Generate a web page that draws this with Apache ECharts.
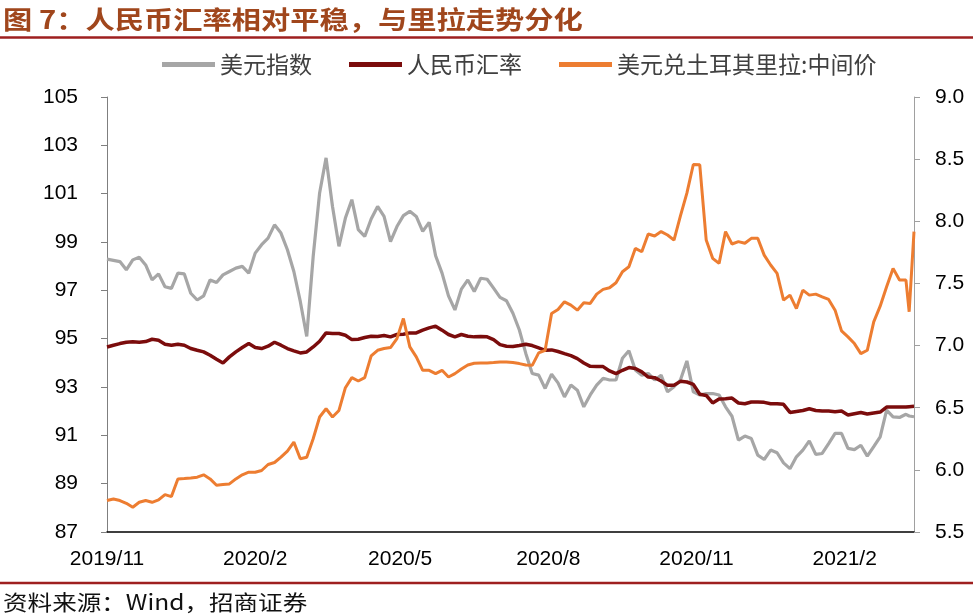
<!DOCTYPE html>
<html>
<head>
<meta charset="utf-8">
<script src="https://cdn.jsdelivr.net/npm/echarts@6/dist/echarts.min.js"></script>
<style>
html,body{margin:0;padding:0;background:#fff;}
#chart{width:973px;height:615px;}
</style>
</head>
<body>
<div id="chart"></div>
<script>
const titleText = '图 7：人民币汇率相对平稳，与里拉走势分化';
const sourceText = '资料来源：Wind，招商证券';
const seriesNames = ['美元指数', '人民币汇率', '美元兑土耳其里拉:中间价'];
const xTickDates = ['2019-11-07', '2020-02-07', '2020-05-07', '2020-08-07', '2020-11-07', '2021-02-07'];

const dates = [
'2019-11-07','2019-11-11','2019-11-15','2019-11-19','2019-11-23','2019-11-27','2019-12-01','2019-12-05','2019-12-09','2019-12-13',
'2019-12-17','2019-12-21','2019-12-25','2019-12-29','2020-01-02','2020-01-06','2020-01-10','2020-01-14','2020-01-18','2020-01-22',
'2020-01-26','2020-01-30','2020-02-03','2020-02-07','2020-02-11','2020-02-15','2020-02-19','2020-02-23','2020-02-27','2020-03-02',
'2020-03-06','2020-03-10','2020-03-14','2020-03-18','2020-03-22','2020-03-26','2020-03-30','2020-04-03','2020-04-07','2020-04-11',
'2020-04-15','2020-04-19','2020-04-23','2020-04-27','2020-05-01','2020-05-05','2020-05-09','2020-05-13','2020-05-17','2020-05-21',
'2020-05-25','2020-05-29','2020-06-02','2020-06-06','2020-06-10','2020-06-14','2020-06-18','2020-06-22','2020-06-26','2020-06-30',
'2020-07-04','2020-07-08','2020-07-12','2020-07-16','2020-07-20','2020-07-24','2020-07-28','2020-08-01','2020-08-05','2020-08-09',
'2020-08-13','2020-08-17','2020-08-21','2020-08-25','2020-08-29','2020-09-02','2020-09-06','2020-09-10','2020-09-14','2020-09-18',
'2020-09-22','2020-09-26','2020-09-30','2020-10-04','2020-10-08','2020-10-12','2020-10-16','2020-10-20','2020-10-24','2020-10-28',
'2020-11-01','2020-11-05','2020-11-09','2020-11-13','2020-11-17','2020-11-21','2020-11-25','2020-11-29','2020-12-03','2020-12-07',
'2020-12-11','2020-12-15','2020-12-19','2020-12-23','2020-12-27','2020-12-31','2021-01-04','2021-01-08','2021-01-12','2021-01-16',
'2021-01-20','2021-01-24','2021-01-28','2021-02-01','2021-02-05','2021-02-09','2021-02-13','2021-02-17','2021-02-21','2021-02-25',
'2021-03-01','2021-03-05','2021-03-09','2021-03-13','2021-03-17','2021-03-19','2021-03-22'
];

const dollarIndex = [
98.29,98.24,98.19,97.85,98.26,98.37,98.05,97.43,97.68,97.15,
97.08,97.71,97.68,96.88,96.60,96.77,97.43,97.32,97.64,97.78,
97.92,97.99,97.71,98.54,98.89,99.16,99.71,99.37,98.68,97.78,
96.54,95.09,98.40,101.03,102.48,100.47,98.82,99.99,100.75,99.51,
99.23,99.95,100.47,100.06,99.02,99.64,100.09,100.27,100.06,99.44,
99.81,98.43,97.71,96.77,96.19,97.05,97.43,96.95,97.50,97.46,
97.09,96.71,96.57,96.05,95.36,94.39,93.56,93.49,92.94,93.53,
93.17,92.59,93.08,92.87,92.18,92.67,93.08,93.36,93.29,93.29,
94.19,94.50,93.70,93.49,93.56,93.29,93.49,92.80,93.01,93.29,
94.08,92.80,92.67,92.73,92.73,92.67,92.18,91.79,90.80,90.97,
90.87,90.18,90.00,90.39,90.28,89.86,89.62,90.11,90.39,90.77,
90.21,90.25,90.66,91.08,91.08,90.46,90.41,90.59,90.14,90.53,
90.94,92.04,91.76,91.74,91.87,91.80,91.77
];

const cnyRate = [
6.989,7.003,7.016,7.027,7.030,7.027,7.032,7.051,7.043,7.011,
7.003,7.011,7.003,6.976,6.962,6.949,6.922,6.890,6.860,6.909,
6.949,6.984,7.016,6.984,6.976,6.995,7.027,7.003,6.976,6.957,
6.941,6.949,6.989,7.035,7.102,7.097,7.097,7.083,7.048,7.051,
7.065,7.075,7.073,7.081,7.070,7.089,7.091,7.102,7.102,7.124,
7.142,7.156,7.124,7.089,7.070,7.089,7.075,7.070,7.073,7.070,
7.048,7.008,6.995,6.992,7.000,7.011,7.000,6.981,6.962,6.965,
6.952,6.935,6.919,6.895,6.860,6.833,6.831,6.831,6.796,6.774,
6.801,6.823,6.815,6.788,6.747,6.742,6.715,6.680,6.680,6.712,
6.707,6.688,6.608,6.599,6.538,6.570,6.573,6.578,6.538,6.532,
6.546,6.546,6.543,6.532,6.532,6.527,6.462,6.470,6.478,6.492,
6.478,6.473,6.473,6.468,6.473,6.441,6.452,6.462,6.449,6.457,
6.465,6.505,6.505,6.505,6.505,6.508,6.511
];

const usdTry = [
5.753,5.766,5.753,5.731,5.699,5.739,5.753,5.739,5.758,5.801,
5.785,5.927,5.930,5.935,5.941,5.960,5.927,5.876,5.882,5.887,
5.927,5.960,5.981,5.981,5.995,6.043,6.059,6.102,6.151,6.223,
6.089,6.102,6.250,6.425,6.492,6.425,6.478,6.661,6.742,6.715,
6.742,6.917,6.962,6.976,6.984,7.056,7.218,6.989,6.909,6.801,
6.801,6.774,6.801,6.747,6.774,6.812,6.844,6.858,6.860,6.860,
6.863,6.868,6.868,6.863,6.855,6.844,6.841,6.941,6.962,7.258,
7.290,7.352,7.325,7.285,7.344,7.339,7.414,7.452,7.465,7.505,
7.594,7.634,7.782,7.755,7.898,7.882,7.917,7.890,7.849,8.043,
8.226,8.457,8.454,7.849,7.702,7.661,7.917,7.817,7.836,7.823,
7.863,7.863,7.728,7.648,7.581,7.366,7.406,7.298,7.446,7.406,
7.414,7.392,7.371,7.285,7.118,7.070,7.016,6.935,6.962,7.191,
7.317,7.473,7.621,7.527,7.527,7.272,7.917
];

function toStamp(s) {
  const p = s.split('-');
  return new Date(+p[0], +p[1] - 1, +p[2]).getTime();
}
const stamps = dates.map(toStamp);
const zip = (vals) => stamps.map((t, i) => [t, vals[i]]);
const tickStamps = xTickDates.map(toStamp);

const chart = echarts.init(document.getElementById('chart'), null, {renderer: 'canvas'});
const axisFont = {fontFamily: '"Liberation Sans", Arial, sans-serif', fontSize: 21, color: '#000'};

chart.setOption({
  animation: false,
  backgroundColor: '#fff',
  grid: {left: 107, right: 59, top: 97, bottom: 83, containLabel: false},
  legend: {
    data: seriesNames,
    left: 157, top: 48,
    icon: 'rect', itemWidth: 53, itemHeight: 5, itemGap: 37,
    textStyle: {fontFamily: '"Noto Sans CJK SC", sans-serif', fontSize: 23, color: '#404040'}
  },
  xAxis: {
    type: 'value',
    min: stamps[0], max: stamps[stamps.length - 1],
    axisLine: {show: true, onZero: false, lineStyle: {color: '#000', width: 1.5}},
    axisTick: {show: false},
    splitLine: {show: false},
    axisLabel: Object.assign({
      customValues: tickStamps,
      margin: 17,
      hideOverlap: false,
      showMinLabel: true, showMaxLabel: true,
      formatter: (v) => { const d = new Date(v); return d.getFullYear() + '/' + (d.getMonth() + 1); }
    }, axisFont)
  },
  yAxis: [
    {
      type: 'value', position: 'left', min: 87, max: 105, interval: 2,
      axisLine: {show: true, lineStyle: {color: '#7f7f7f'}},
      axisTick: {show: true, length: 6, lineStyle: {color: '#7f7f7f'}},
      splitLine: {show: false},
      axisLabel: Object.assign({margin: 29}, axisFont)
    },
    {
      type: 'value', position: 'right', min: 5.5, max: 9.0, interval: 0.5,
      axisLine: {show: true, lineStyle: {color: '#a0a0a0'}},
      axisTick: {show: true, length: 6, lineStyle: {color: '#a0a0a0'}},
      splitLine: {show: false},
      axisLabel: Object.assign({margin: 21, formatter: (v) => v.toFixed(1)}, axisFont)
    }
  ],
  series: [
    {name: seriesNames[0], type: 'line', yAxisIndex: 0, data: zip(dollarIndex), symbol: 'none',
     lineStyle: {color: '#a6a6a6', width: 3.2}, itemStyle: {color: '#a6a6a6'}},
    {name: seriesNames[1], type: 'line', yAxisIndex: 1, data: zip(cnyRate), symbol: 'none',
     lineStyle: {color: '#7b0c0c', width: 3.5}, itemStyle: {color: '#7b0c0c'}},
    {name: seriesNames[2], type: 'line', yAxisIndex: 1, data: zip(usdTry), symbol: 'none',
     lineStyle: {color: '#ed7d31', width: 3}, itemStyle: {color: '#ed7d31'}}
  ],
  graphic: [
    {type: 'text', x: 3, y: 19, scaleX: 1.17,
     style: {text: titleText, font: 'bold 25px "Noto Sans CJK SC", sans-serif', fill: '#a0461c',
             textAlign: 'left', textVerticalAlign: 'middle'}},
    {type: 'line', shape: {x1: 0, y1: 37.5, x2: 973, y2: 37.5}, style: {stroke: '#9e1f1f', lineWidth: 2.5}},
    {type: 'line', shape: {x1: 0, y1: 583, x2: 973, y2: 583}, style: {stroke: '#9e1f1f', lineWidth: 2.5}},
    {type: 'text', x: 3, y: 602, scaleX: 1.17,
     style: {text: sourceText, font: '21px "Noto Sans CJK SC", sans-serif', fill: '#111',
             textAlign: 'left', textVerticalAlign: 'middle'}}
  ]
});
</script>
</body>
</html>
